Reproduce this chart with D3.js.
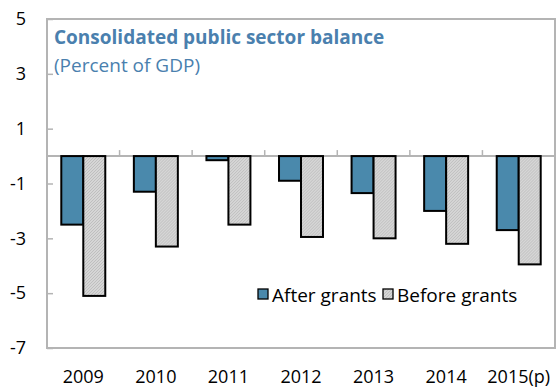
<!DOCTYPE html>
<html>
<head>
<meta charset="utf-8">
<script src="https://cdn.jsdelivr.net/npm/d3@7"></script>
<style>
  html, body { margin: 0; padding: 0; background: #fff; }
  svg text { font-family: "Open Sans", "Noto Sans", sans-serif; }
</style>
</head>
<body>
<svg id="chart" width="556" height="387"></svg>
<script>
// Consolidated public sector balance, percent of GDP
const years = ["2009", "2010", "2011", "2012", "2013", "2014", "2015(p)"];
const afterGrants = [-2.5, -1.3, -0.15, -0.9, -1.35, -2.0, -2.7];
const beforeGrants = [-5.1, -3.3, -2.5, -2.95, -3.0, -3.2, -3.95];
const seriesNames = ["After grants", "Before grants"];
const yTicks = [5, 3, 1, -1, -3, -5, -7];
const title = "Consolidated public sector balance";
const subtitle = "(Percent of GDP)";

const svg = d3.select("#chart");
const margin = { left: 47, right: 555, top: 19, bottom: 348 };

const defs = svg.append("defs");
const pat = defs.append("pattern")
  .attr("id", "hatch")
  .attr("patternUnits", "userSpaceOnUse")
  .attr("width", 3).attr("height", 3);
pat.append("rect").attr("width", 3).attr("height", 3).attr("fill", "#d6d6d6");
pat.append("path").attr("d", "M0,3 L3,0 M-1,1 L1,-1 M2,4 L4,2")
  .attr("stroke", "#b9b9b9").attr("stroke-width", 0.8);

const x0 = d3.scaleBand().domain(years).range([margin.left, margin.right]);
const x1 = d3.scaleBand().domain(seriesNames).range([0, x0.bandwidth()])
  .paddingInner(0).paddingOuter(0.65);
const y = d3.scaleLinear().domain([-7, 5]).range([margin.bottom, margin.top]);

const fills = { "After grants": "#4a89ac", "Before grants": "url(#hatch)" };
const axisGray = "#b4b4b4";

// plot frame
svg.append("rect")
  .attr("x", margin.left).attr("y", margin.top)
  .attr("width", margin.right - margin.left)
  .attr("height", margin.bottom - margin.top)
  .attr("fill", "none").attr("stroke", axisGray).attr("stroke-width", 2);

// y axis ticks (inward) and labels
const yAxis = d3.axisRight(y).tickValues(yTicks).tickSize(6).tickFormat("");
svg.append("g").attr("transform", `translate(${margin.left},0)`).call(yAxis)
  .call(g => g.select(".domain").remove())
  .call(g => g.selectAll("line").attr("stroke", axisGray).attr("stroke-width", 1.5));
svg.append("g").selectAll("text").data(yTicks).join("text")
  .attr("x", 26).attr("y", d => y(d)).attr("dy", "0.35em")
  .attr("text-anchor", "end").attr("font-size", 18).attr("fill", "#000")
  .text(d => d);

// category axis along zero with upward ticks between categories
svg.append("line")
  .attr("x1", margin.left).attr("x2", margin.right)
  .attr("y1", y(0)).attr("y2", y(0))
  .attr("stroke", axisGray).attr("stroke-width", 2);
svg.append("g").selectAll("line").data(years.slice(1)).join("line")
  .attr("x1", d => x0(d)).attr("x2", d => x0(d))
  .attr("y1", y(0)).attr("y2", y(0) - 6)
  .attr("stroke", axisGray).attr("stroke-width", 1.5);

// category labels
svg.append("g").selectAll("text").data(years).join("text")
  .attr("x", d => x0(d) + x0.bandwidth() / 2).attr("y", 383)
  .attr("text-anchor", "middle").attr("font-size", 18).attr("fill", "#000")
  .text(d => d);

// bars
const rows = years.map((yr, i) => ({ year: yr, values: [
  { name: seriesNames[0], v: afterGrants[i] },
  { name: seriesNames[1], v: beforeGrants[i] }
]}));
svg.append("g").selectAll("g").data(rows).join("g")
  .attr("transform", d => `translate(${x0(d.year)},0)`)
  .selectAll("rect").data(d => d.values).join("rect")
  .attr("x", d => x1(d.name))
  .attr("width", x1.bandwidth())
  .attr("y", d => y(Math.max(0, d.v)))
  .attr("height", d => Math.abs(y(d.v) - y(0)))
  .attr("fill", d => fills[d.name])
  .attr("stroke", "#000").attr("stroke-width", 2);

// title
svg.append("text").attr("x", 54).attr("y", 44)
  .attr("font-size", 19).attr("font-weight", "bold").attr("fill", "#4a80ae")
  .text(title);
svg.append("text").attr("x", 54).attr("y", 72)
  .attr("font-size", 19).attr("fill", "#4a80ae")
  .text(subtitle);

// legend
const legend = svg.append("g");
const legendX = [258, 383];
seriesNames.forEach((name, i) => {
  legend.append("rect")
    .attr("x", legendX[i]).attr("y", 289).attr("width", 10).attr("height", 10)
    .attr("fill", fills[name]).attr("stroke", "#000").attr("stroke-width", 1.3);
  legend.append("text")
    .attr("x", legendX[i] + 14).attr("y", 302)
    .attr("font-size", 19).attr("fill", "#000")
    .text(name);
});
</script>
</body>
</html>
